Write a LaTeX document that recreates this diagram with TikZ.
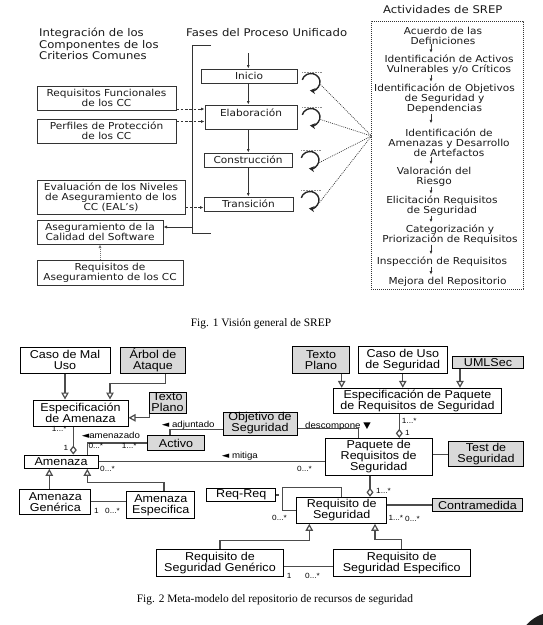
\documentclass[tikz,border=0pt]{standalone}
\usepackage{fontspec}
\usepackage{tikz}
\usetikzlibrary{positioning,calc,arrows.meta}

\newfontfamily\verdfont[FakeStretch=1.1]{DejaVu Sans}
\newfontfamily\arialfont[FakeStretch=1.1]{Liberation Sans}
\newfontfamily\captfont{Liberation Serif}
\newcommand{\tri}[1]{{\verdfont #1}}

\begin{document}
\begin{tikzpicture}[x=1pt,y=-1pt,
        phasebox/.style={draw=black!80, line width=1pt, inner sep=0pt, align=center,
            font=\verdfont\fontsize{9.6}{10}\selectfont, text=black!90},
        srepact/.style={inner sep=0pt, align=center, anchor=base,
            font=\verdfont\fontsize{9.6}{10}\selectfont, text=black!90},
        heading/.style={inner sep=0pt, align=left, anchor=base west,
            font=\verdfont\fontsize{10.6}{11.3}\selectfont, text=black!90},
        flow/.style={draw=black!80, line width=0.7pt, -{Latex[length=3.5pt,width=3pt]}},
        dflow/.style={flow, dash pattern=on 2.5pt off 1.8pt},
        pflow/.style={flow, draw=black!55, dash pattern=on 1pt off 1pt},
        loopy/.style={draw=black!85, line width=1.4pt, -{Stealth[length=5.5pt,width=6pt]}},
        dots/.style={draw=black!80, line width=0.7pt, dash pattern=on 0.9pt off 1.1pt},
        umlbox/.style={draw, line width=1pt, inner sep=0pt, align=center,
            font=\arialfont\fontsize{11.4}{11}\selectfont},
        shaded/.style={umlbox, fill=black!15},
        assoc/.style={draw=black!70, line width=1.2pt},
        gen/.style={assoc, -{Triangle[open,length=7pt,width=7.5pt]}},
        agg/.style={assoc, -{Diamond[open,length=9pt,width=7pt]}},
        mult/.style={inner sep=0pt, anchor=base west, font=\arialfont\fontsize{7.5}{8}\selectfont},
        role/.style={inner sep=0pt, anchor=base west, font=\arialfont\fontsize{8.8}{9}\selectfont},
        caption/.style={inner sep=0pt, anchor=base west, font=\captfont\fontsize{11.4}{13}\selectfont}
    ]

        \useasboundingbox (0,0) rectangle (542,625);

        % Fig. 1
        \node[heading] (hcc) at (39,59.3) {Integración de los\\Componentes de los\\Criterios Comunes};
        \node[heading] (hup) at (186,36.7) {Fases del Proceso Unificado};
        \node[heading] (hsrep) at (383,13.3) {Actividades de SREP};

        \node[phasebox, minimum width=96, minimum height=14] (ini) at (249,76) {Inicio};
        \node[phasebox, minimum width=92, minimum height=24, text height=7pt, text depth=9pt] (ela) at (251,117) {Elaboración};
        \node[phasebox, minimum width=88, minimum height=14] (con) at (248,160) {Construcción};
        \node[phasebox, minimum width=89, minimum height=14] (tra) at (248.5,204) {Transición};

        \node[phasebox, minimum width=139, minimum height=24] (rfc) at (106.5,98) {Requisitos Funcionales\\de los CC};
        \node[phasebox, minimum width=139, minimum height=24] (ppc) at (106.5,131) {Perfiles de Protección\\de los CC};
        \node[phasebox, minimum width=148, minimum height=34] (eva) at (111,197) {Evaluación de los Niveles\\de Aseguramiento de los\\CC (EAL’s)};
        \node[phasebox, minimum width=126, minimum height=24] (asc) at (100,232) {Aseguramiento de la\\Calidad del Software};
        \node[phasebox, minimum width=146, minimum height=25] (rac) at (110,272.5) {Requisitos de\\Aseguramiento de los CC};

        \node[dots, minimum width=152, minimum height=268, inner sep=0pt] (srep) at (447,155) {};
        \node[srepact] (acuerdo) at (443,44) {Acuerdo de las\\Definiciones};
        \node[srepact] (activos) at (449,72.3) {Identificación de Activos\\Vulnerables y/o Críticos};
        \node[srepact] (objetivos) at (444.5,111.3) {Identificación de Objetivos\\de Seguridad y\\Dependencias};
        \node[srepact] (amenazas) at (449,156.3) {Identificación de\\Amenazas y Desarrollo\\de Artefactos};
        \node[srepact] (valoracion) at (434,184.7) {Valoración del\\Riesgo};
        \node[srepact] (elicitacion) at (442,213.3) {Elicitación Requisitos\\de Seguridad};
        \node[srepact] (categ) at (450,242.3) {Categorización y\\Priorización de Requisitos};
        \node[srepact] (inspeccion) at (442,264.7) {Inspección de Requisitos};
        \node[srepact] (mejora) at (447.5,284.7) {Mejora del Repositorio};

        \coordinate (srepx) at (431,0);
        \foreach \a/\b/\s in {acuerdo/activos/1.5, activos/objetivos/1.5, objetivos/amenazas/5,
                amenazas/valoracion/2.5, valoracion/elicitacion/1.5, elicitacion/categ/2,
                categ/inspeccion/2.5, inspeccion/mejora/2.5}
            \draw[flow, shorten >=\s pt] (\a.south -| srepx) -- (\b.north -| srepx);

        \coordinate (brtop) at (211,45);
        \coordinate (brbot) at (211,233);
        \coordinate (brmid) at (192,227);
        \path[draw=black!80, line width=1pt] (brtop) -- (brtop -| brmid) -- (brbot -| brmid) -- (brbot);
        \draw[flow] (brmid) -- (brmid -| asc.east);

        \coordinate (upin) at (248.3,53);
        \draw[flow] (upin) -- (upin |- ini.north);
        \foreach \a/\b in {ini/ela,ela/con,con/tra}
            \draw[flow] (\a.south -| upin) -- (\b.north -| upin);

        \draw[dflow] ($(rfc.south east)+(0,-1.5)$) coordinate (r1) -- (r1 -| ela.west);
        \draw[dflow] ($(ppc.north east)+(0,3)$) coordinate (r2) -- (r2 -| ela.west);
        \draw[dflow] ($(eva.south east)+(0,-7)$) coordinate (r3) -- (r3 -| tra.west);
        \draw[pflow] (asc.south |- rac.north) -- (asc.south);

        \coordinate (lp1) at (311,82);
        \coordinate (lp2) at (311,117);
        \coordinate (lp3) at (310,160);
        \coordinate (lp4) at (310,200);
        \coordinate (srepin) at (371.5,136);
        \foreach \l in {lp1,lp2,lp3,lp4} {
            \path[draw=black!45, line width=0.5pt, dash pattern=on 0.8pt off 0.8pt] ($(\l)+(-9,-10)$) -- ++(20,0);
            \draw[loopy] (\l) ++(-165:9 and 8.5) arc[start angle=-165, end angle=97, x radius=9, y radius=8.5];
            \draw[dots] ($(\l)+(9.5,2.5)$) -- (srepin);
        }

        \node[caption] (cap1) at (190.7,326) {Fig. 1 Visión general de SREP};

        % Fig. 2
        \node[umlbox, minimum width=90, minimum height=26] (malu) at (65,360) {Caso de Mal\\Uso};
        \node[shaded, minimum width=65, minimum height=26] (arbol) at (153,360) {Árbol de\\Ataque};
        \node[umlbox, minimum width=95, minimum height=26] (espam) at (80.5,413) {Especificación\\de Amenaza};
        \node[shaded, minimum width=37, minimum height=21] (tpa) at (167.5,402.5) {Texto\\Plano};
        \node[shaded, minimum width=74, minimum height=23] (objseg) at (260,423.5) {Objetivo de\\Seguridad};
        \node[shaded, minimum width=56.5, minimum height=15.5] (activo) at (176,443) {Activo};
        \node[umlbox, minimum width=74, minimum height=13.3] (amz) at (61,461.7) {Amenaza};
        \node[umlbox, minimum width=70.7, minimum height=24.7] (amgen) at (55.3,501.7) {Amenaza\\Genérica};
        \node[umlbox, minimum width=68.3, minimum height=26.6] (amesp) at (160.8,505) {Amenaza\\Especifica};
        \node[umlbox, minimum width=69.3, minimum height=13.4] (reqreq) at (241.3,495) {Req-Req};
        \node[umlbox, minimum width=90, minimum height=26] (reqseg) at (341.7,510.3) {Requisito de\\Seguridad};
        \node[umlbox, minimum width=107.3, minimum height=36.7] (paq) at (378.7,456.7) {Paquete de\\Requisitos de\\Seguridad};
        \node[shaded, minimum width=75.7, minimum height=25] (test) at (486,454.2) {Test de\\Seguridad};
        \node[shaded, minimum width=89.6, minimum height=13.4] (contra) at (477.5,505) {Contramedida};
        \node[umlbox, minimum width=126.6, minimum height=26.7] (rsgen) at (220,563.3) {Requisito de\\Seguridad Genérico};
        \node[umlbox, minimum width=136.7, minimum height=26.7] (rsesp) at (401.7,563.3) {Requisito de\\Seguridad Especifico};
        \node[shaded, minimum width=56.6, minimum height=26.6] (tpb) at (321,360) {Texto\\Plano};
        \node[umlbox, minimum width=89, minimum height=27.3] (cuseg) at (402.8,360.3) {Caso de Uso\\de Seguridad};
        \node[shaded, minimum width=70.6, minimum height=12.3] (umlsec) at (488,362.2) {UMLSec};
        \node[umlbox, minimum width=168.4, minimum height=25] (espaq) at (417.5,400.8) {Especificación de Paquete\\de Requisitos de Seguridad};

        \draw[gen] (malu.south) -- (malu.south |- espam.north);
        \draw[gen] ([xshift=12.7]arbol.south) -- ++(0,10.3) -| ([xshift=29.5]espam.north);
        \draw[gen] ([xshift=1]tpa.south west) |- ($(espam.south east)+(0,-8.7)$);
        \draw[agg] ([xshift=-7.2]espam.south) coordinate (e1) -- (e1 |- amz.north);
        \draw[assoc] (activo.west) -| ([xshift=26.3]amz.north);
        \draw[assoc] ($(objseg.south west)+(0,-5.7)$) -| ([xshift=-6]activo.north);
        \draw[assoc] (amz.east) -- (amz.east -| paq.west);
        \draw[assoc] ($(objseg.south east)+(0,-6.7)$) -| ([xshift=-20.4]paq.north);
        \draw[gen] ([xshift=-6]amgen.north) coordinate (g0) -- (g0 |- amz.south);
        \draw[gen] ([xshift=3.2]amesp.north) -- ++(0,-8.4) -| ([xshift=26.3]amz.south);
        \draw[assoc] (amgen.east) -- (amgen.east -| amesp.west);
        \draw[assoc] (reqseg.west) -- ++(-13.4,0) coordinate (selfl) |- ($(reqseg.north)+(0,-9.6)$) -- (reqseg.north);
        \draw[assoc, dashed] (reqreq.east) -- (reqreq.east -| selfl);
        \draw[agg] ($(reqseg.north)+(28.3,0)$) coordinate (a1) (a1 |- paq.south) -- (a1);
        \draw[assoc] (paq.east |- test.west) -- (test.west);
        \draw[assoc] (reqseg.east |- contra.west) -- (contra.west);
        \draw[gen] (rsgen.north) -- ++(0,-9) -| ([xshift=-32.4]reqseg.south);
        \draw[gen] (rsesp.north) -- ++(0,-10) -| ([xshift=33.3]reqseg.south);
        \draw[assoc] ($(rsgen.east)+(0,3.4)$) coordinate (g1) -- (g1 -| rsesp.west);
        \draw[gen] ([xshift=20.7]tpb.south) coordinate (t1) -- (t1 |- espaq.north);
        \draw[gen] (cuseg.south) -- (cuseg.south |- espaq.north);
        \draw[gen] ([xshift=-28]umlsec.south) coordinate (u1) -- (u1 |- espaq.north);
        \draw[agg] ([xshift=-18.2]espaq.south) coordinate (p1) -- (p1 |- paq.north);

        \node[mult] (m1) at (51.7,431.5) {1...*};
        \node[mult] (m2) at (63.3,450) {1};
        \node[mult] (m3) at (88.3,448.3) {0...*};
        \node[mult] (m4) at (121.7,448.3) {1...*};
        \node[mult] (m5) at (100,471) {0...*};
        \node[mult] (m6) at (297,471) {0...*};
        \node[mult] (m7) at (94,513) {1};
        \node[mult] (m8) at (105,513) {0...*};
        \node[mult] (m9) at (272,520.5) {0...*};
        \node[mult] (m10) at (376,493) {1...*};
        \node[mult] (m11) at (388.3,520) {1...*};
        \node[mult] (m12) at (405,521.5) {0...*};
        \node[mult] (m13) at (286.7,578) {1};
        \node[mult] (m14) at (305,578) {0...*};
        \node[mult] (m15) at (401.7,423) {1...*};
        \node[mult] (m16) at (405,435.5) {1};

        \node[role] (ramen) at (81.7,438.5) {\tri{◄}amenazado};
        \node[role] (radj) at (161.7,427) {\tri{◄} adjuntado};
        \node[role] (rdes) at (305,428.5) {descompone \tri{▼}};
        \node[role] (rmit) at (221.7,458.5) {\tri{◄} mitiga};

        \node[caption] (cap2) at (136.7,602) {Fig. 2 Meta-modelo del repositorio de recursos de seguridad};

        \fill[black!88] (555,650) circle (38);

    \end{tikzpicture}
\end{document}
